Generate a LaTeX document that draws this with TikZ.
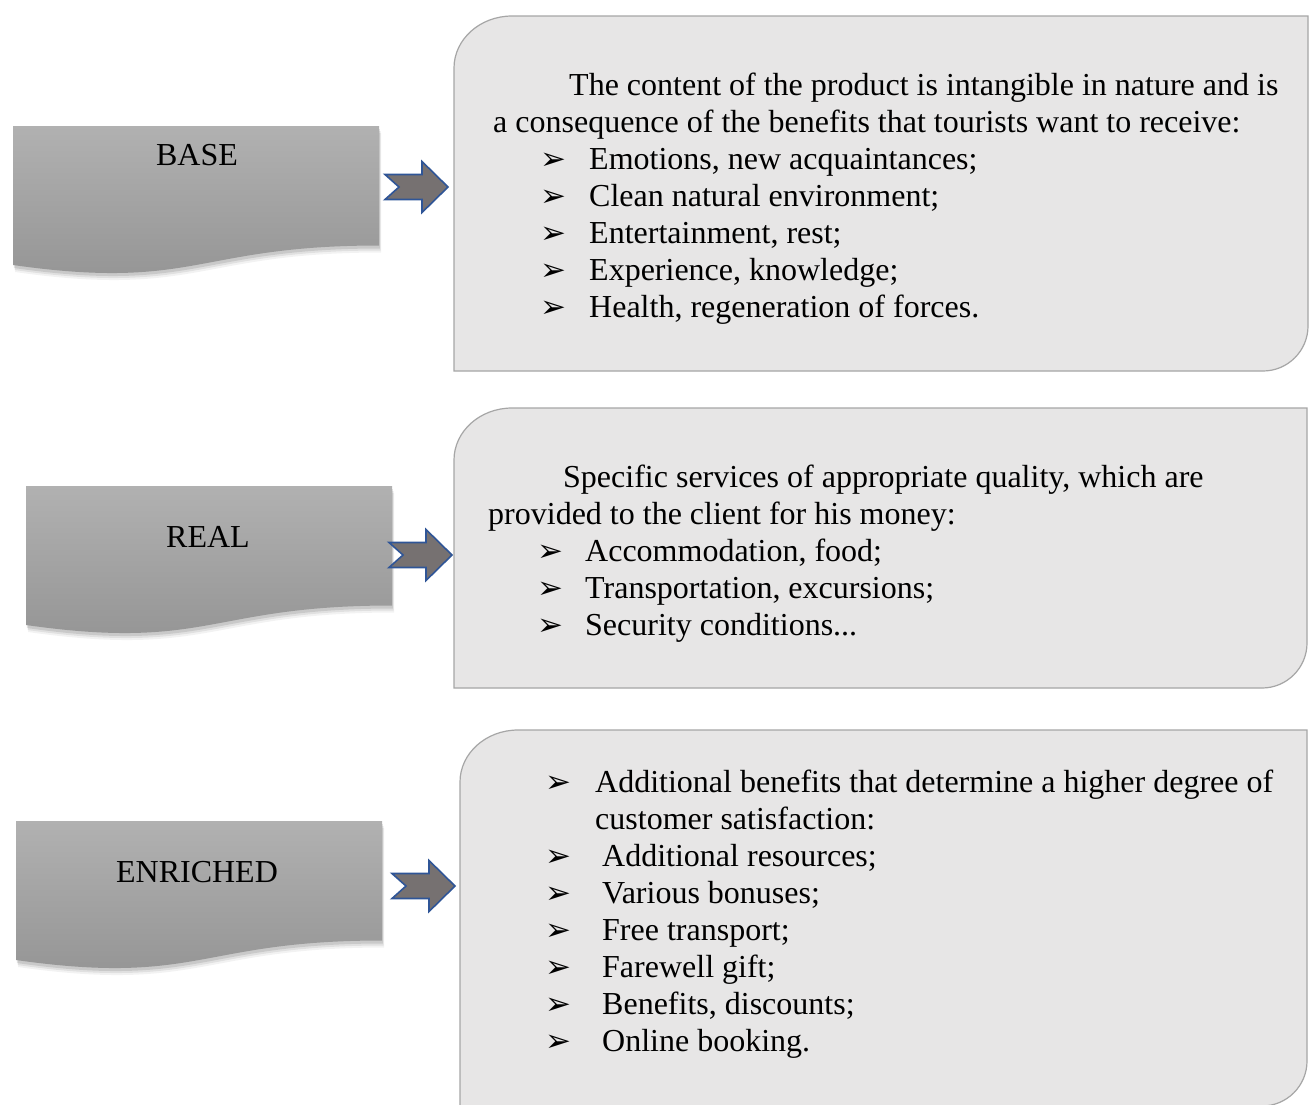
\documentclass[tikz,border=0pt]{standalone}
\usepackage{fontspec}
\setmainfont{Liberation Serif}
\newfontfamily\bulfont{DejaVu Sans}
\definecolor{boxfill}{HTML}{E7E6E6}
\definecolor{boxline}{HTML}{A6A6A6}
\definecolor{shapetop}{HTML}{B1B1B1}
\definecolor{shapebot}{HTML}{939393}
\definecolor{arrfill}{HTML}{767171}
\definecolor{arrline}{HTML}{2F5597}
\newcommand\docshape[3]{% x0, top, name
  \foreach \o/\a in {7/0.05,5/0.07,3/0.10}{
    \fill[black,opacity=\a] (#1+\o*0.3,#2+\o) -- (#1+366+\o*0.3,#2+\o) -- (#1+366+\o*0.3,#2+119.5+\o)
      .. controls (#1+183+\o*0.3,#2+119.5+\o) and (#1+183+\o*0.3,#2+165+\o) .. (#1+\o*0.3,#2+139+\o) -- cycle;
  }
  \shade[top color=shapetop,bottom color=shapebot] (#1,#2) -- (#1+366,#2) -- (#1+366,#2+119.5)
      .. controls (#1+183,#2+119.5) and (#1+183,#2+165) .. (#1,#2+139) -- cycle;
  \coordinate (#3) at (#1+183,#2);
}
\newcommand\rbox[5]{% x0, x1, top, bottom, name
  \draw[fill=boxfill,draw=boxline,line width=1.2pt]
    (#1,#3+52) .. controls (#1,#3+23.3) and (#1+26,#3) .. (#1+58,#3)
    -- (#2,#3) -- (#2,#4-45) .. controls (#2,#4-20.2) and (#2-20.2,#4) .. (#2-45,#4)
    -- (#1,#4) -- cycle;
  \coordinate (#5) at (#1,#3);
}
\newcommand\blockarrow[3]{% x0, yc, name
  \draw[fill=arrfill,draw=arrline,line width=1.6pt,line join=miter]
    (#1,#2-12.5) -- (#1+37,#2-12.5) -- (#1+37,#2-25.5) -- (#1+63,#2) -- (#1+37,#2+25.5)
    -- (#1+37,#2+12.5) -- (#1,#2+12.5) -- (#1+14,#2) -- cycle;
  \coordinate (#3) at (#1+63,#2);
}
\begin{document}
\begin{tikzpicture}[x=1pt,y=-1pt,
  txt/.style={anchor=base west,inner sep=0pt,font=\fontsize{32}{37}\selectfont},
  lbl/.style={anchor=base,inner sep=0pt,font=\fontsize{32}{37}\selectfont},
  bul/.style={anchor=base west,inner sep=0pt,font=\bulfont\fontsize{31}{34}\selectfont}]
\useasboundingbox (0,0) rectangle (1309,1104);
\fill[white] (0,0) rectangle (1309,1104);

% ---------- row 1 ----------
\docshape{13}{126}{s1}
\node[lbl] (base) at (197,165) {BASE};
\blockarrow{385}{187}{a1}
\rbox{454}{1308}{16}{371}{r1}
\node[txt] (t11) at (569,95) {The content of the product is intangible in nature and is};
\node[txt] (t12) at (493,132) {a consequence of the benefits that tourists want to receive:};
\foreach \y/\t [count=\i] in {169/{Emotions, new acquaintances;},206/{Clean natural environment;},
  243/{Entertainment, rest;},280/{Experience, knowledge;},317/{Health, regeneration of forces.}}{
  \node[bul] (b1\i) at (540,\y) {➢};
  \node[txt] (i1\i) at (589,\y) {\t};
}

% ---------- row 2 ----------
\docshape{26}{486}{s2}
\node[lbl] (real) at (208,547) {REAL};
\blockarrow{389}{555}{a2}
\rbox{454}{1307}{408}{688}{r2}
\node[txt] (t21) at (563,487) {Specific services of appropriate quality, which are};
\node[txt] (t22) at (488,524) {provided to the client for his money:};
\foreach \y/\t [count=\i] in {561/{Accommodation, food;},598/{Transportation, excursions;},
  635/{Security conditions...}}{
  \node[bul] (b2\i) at (537,\y) {➢};
  \node[txt] (i2\i) at (585,\y) {\t};
}

% ---------- row 3 ----------
\docshape{16}{821}{s3}
\node[lbl] (enriched) at (197,882) {ENRICHED};
\blockarrow{392}{886}{a3}
\rbox{460}{1307}{730}{1106}{r3}
\node[bul] (b30) at (545,792) {➢};
\node[txt] (t31) at (595,792) {Additional benefits that determine a higher degree of};
\node[txt] (t32) at (595,829) {customer satisfaction:};
\foreach \y/\t [count=\i] in {866/{Additional resources;},903/{Various bonuses;},940/{Free transport;},
  977/{Farewell gift;},1014/{Benefits, discounts;},1051/{Online booking.}}{
  \node[bul] (b3\i) at (545,\y) {➢};
  \node[txt] (i3\i) at (602,\y) {\t};
}
\end{tikzpicture}
\end{document}
